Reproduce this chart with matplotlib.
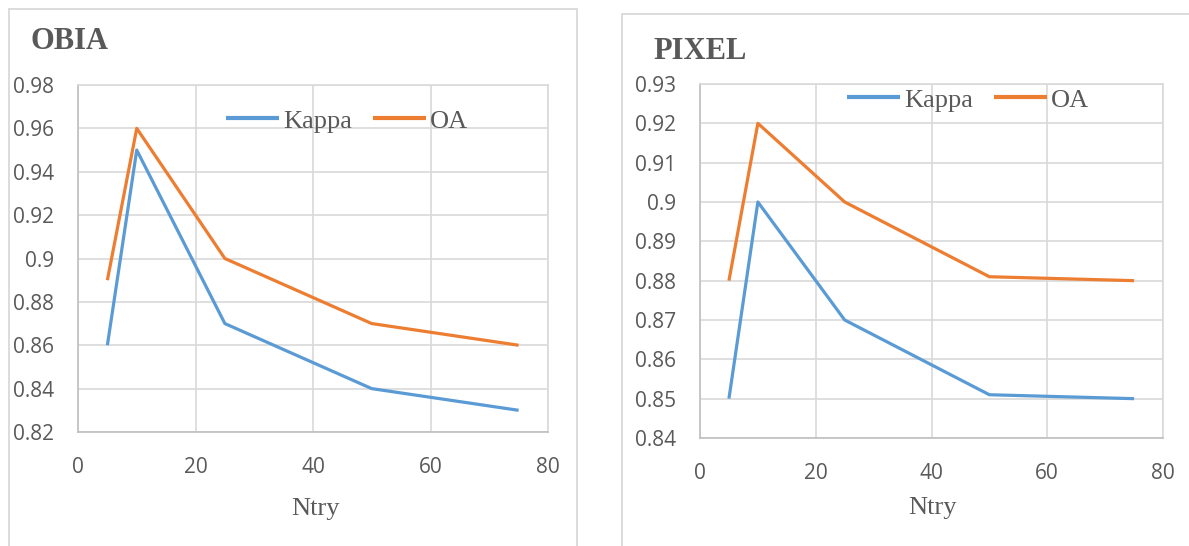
import matplotlib
matplotlib.use("Agg")
import matplotlib.pyplot as plt
from matplotlib.patches import Rectangle
from matplotlib.ticker import FuncFormatter

# ---- data ----
ntry = [5, 10, 25, 50, 75]
obia_kappa = [0.86, 0.95, 0.87, 0.84, 0.83]
obia_oa = [0.89, 0.96, 0.90, 0.87, 0.86]
pixel_kappa = [0.85, 0.90, 0.87, 0.851, 0.85]
pixel_oa = [0.88, 0.92, 0.90, 0.881, 0.88]
x_ticks = [0, 20, 40, 60, 80]
obia_yticks = [0.82, 0.84, 0.86, 0.88, 0.90, 0.92, 0.94, 0.96, 0.98]
pixel_yticks = [0.84, 0.85, 0.86, 0.87, 0.88, 0.89, 0.90, 0.91, 0.92, 0.93]
series_names = ["Kappa", "OA"]
titles = ["OBIA", "PIXEL"]
xlabel = "Ntry"

BLUE = "#5B9BD5"
ORANGE = "#ED7D31"
GRID = "#D9D9D9"
TXT = "#595959"
SERIF = "Liberation Serif"
SANS = "Open Sans"

W, H = 1189, 546
fig = plt.figure(figsize=(W / 100, H / 100), dpi=100)


def ax_at(l, t, r, b):
    return fig.add_axes([l / W, 1 - b / H, (r - l) / W, (b - t) / H])


def fmt(v, pos):
    s = f"{v:.2f}"
    s = s.rstrip("0").rstrip(".") if "." in s else s
    return s


# panel borders
fig.patches.append(Rectangle((9 / W, -0.2), (577 - 9) / W, 1 - 9 / H + 0.2,
                             transform=fig.transFigure, fill=False,
                             ec=GRID, lw=1.3, zorder=0))
fig.patches.append(Rectangle((622 / W, -0.2), 1.0, 1 - 14 / H + 0.2,
                             transform=fig.transFigure, fill=False,
                             ec=GRID, lw=1.3, zorder=0))

panels = [
    dict(box=(78, 85, 548, 432), k=obia_kappa, oa=obia_oa, yt=obia_yticks,
         title=titles[0], tpos=(30, 49), leg=(226, 121), xl=(315, 509)),
    dict(box=(700, 84, 1163, 438), k=pixel_kappa, oa=pixel_oa, yt=pixel_yticks,
         title=titles[1], tpos=(653, 59), leg=(847, 100), xl=(932, 508)),
]

for p in panels:
    ax = ax_at(*p["box"])
    ax.plot(ntry, p["k"], color=BLUE, lw=2.3, solid_joinstyle="round",
            solid_capstyle="butt", label=series_names[0], zorder=3)
    ax.plot(ntry, p["oa"], color=ORANGE, lw=2.3, solid_joinstyle="round",
            solid_capstyle="butt", label=series_names[1], zorder=3)
    ax.set_xlim(0, 80)
    ax.set_ylim(p["yt"][0], p["yt"][-1])
    ax.set_xticks(x_ticks)
    ax.set_yticks(p["yt"])
    ax.yaxis.set_major_formatter(FuncFormatter(fmt))
    ax.grid(True, color=GRID, lw=1.2)
    ax.set_axisbelow(True)
    for s in ax.spines.values():
        s.set_color(GRID)
        s.set_linewidth(1.2)
    ax.spines["bottom"].set_color("#BFBFBF")
    ax.spines["left"].set_color("#BFBFBF")
    ax.tick_params(length=0, labelcolor=TXT, labelsize=15)
    ax.tick_params(axis="y", pad=17)
    ax.tick_params(axis="x", pad=18)
    for lab in ax.get_xticklabels() + ax.get_yticklabels():
        lab.set_fontfamily(SANS)

    fig.text(p["tpos"][0] / W, 1 - p["tpos"][1] / H, p["title"],
             family=SERIF, weight="bold", fontsize=22, color=TXT,
             ha="left", va="baseline")
    fig.text(p["xl"][0] / W, 1 - p["xl"][1] / H, xlabel, family=SERIF,
             fontsize=19, color=TXT, ha="center", va="center")

    leg = ax.legend(loc="center left",
                    bbox_to_anchor=(p["leg"][0] / W, 1 - p["leg"][1] / H),
                    bbox_transform=fig.transFigure, ncol=2, frameon=False,
                    borderpad=0, borderaxespad=0, handlelength=2.0,
                    handletextpad=0.15, columnspacing=0.8,
                    prop={"family": SERIF, "size": 19})
    for t in leg.get_texts():
        t.set_color(TXT)
    for h in leg.get_lines():
        h.set_linewidth(3)

fig.savefig("out.png", dpi=100)
